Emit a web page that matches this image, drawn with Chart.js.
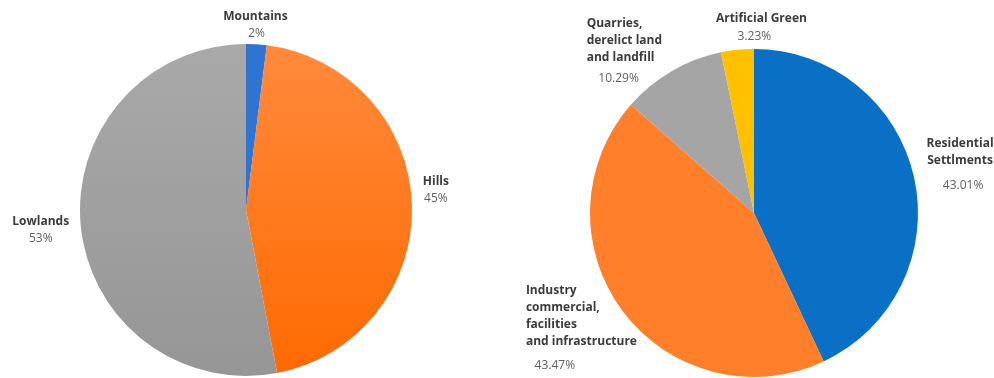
<!DOCTYPE html>
<html>
<head>
<meta charset="utf-8">
<script src="https://cdn.jsdelivr.net/npm/chart.js@4.4.1/dist/chart.umd.min.js"></script>
<style>
  html, body { margin: 0; padding: 0; background: #fff; }
  #wrap { position: relative; width: 994px; height: 378px; overflow: hidden; }
  .box { position: absolute; top: 0; width: 497px; height: 378px; }
  #izq { left: 0; }
  #der { left: 497px; }
</style>
</head>
<body>
<div id="wrap">
  <div class="box" id="izq"><canvas id="graficaRelieve"></canvas></div>
  <div class="box" id="der"><canvas id="graficaUso"></canvas></div>
</div>
<script>
// relief
const relieveEtiquetas = [["Mountains"], ["Hills"], ["Lowlands"]];
const relieveValores = [2, 45, 53];
const relieveTextos = ["2%", "45%", "53%"];

// land use
const usoEtiquetas = [
  ["Residential", "Settlments"],
  ["Industry", "commercial,", "facilities", "and infrastructure"],
  ["Quarries,", "derelict land", "and landfill"],
  ["Artificial Green"]
];
const usoValores = [43.01, 43.47, 10.29, 3.23];
const usoTextos = ["43.01%", "43.47%", "10.29%", "3.23%"];

// where each label sits, relative to the slice's outer edge at mid-angle
const relieveLayout = [
  { align: "center", dx: -1, dy: -28, pdx: 0, pdy: -11 },
  { align: "center", dx: 24, dy: -23, pdx: 24, pdy: -6 },
  { align: "center", dx: -40, dy: -4, pdx: -40, pdy: 13 }
];
const usoLayout = [
  { align: "center", dx: 46, dy: -34, pdx: 49, pdy: 8 },
  { align: "left", dx: -97, dy: -21, pdx: -68, pdy: 54 },
  { align: "left", dx: -85, dy: -48, pdx: -53, pdy: 7 },
  { align: "center", dx: 24, dy: -31, pdx: 17, pdy: -13 }
];

// [top, bottom] colour of each slice
const relieveColores = [["#2f74d0", "#2f74d0"], ["#ff8a3d", "#ff6a00"], ["#a9a9a9", "#969696"]];
const usoColores = [["#0a70c6", "#0a70c6"], ["#ff7f2a", "#ff7f2a"], ["#a5a5a5", "#a5a5a5"], ["#ffc000", "#ffc000"]];

const fuenteNombre = "bold 12px 'Open Sans', sans-serif";
const fuentePct = "12px 'Open Sans', sans-serif";

const pluginEtiquetas = {
  id: "etiquetas",
  afterDatasetsDraw(chart, args, opts) {
    const ctx = chart.ctx;
    const arcos = chart.getDatasetMeta(0).data;
    ctx.save();
    ctx.textBaseline = "middle";
    arcos.forEach((arco, i) => {
      const p = arco.getProps(["x", "y", "startAngle", "endAngle", "outerRadius"], true);
      const medio = (p.startAngle + p.endAngle) / 2;
      const x0 = p.x + Math.cos(medio) * p.outerRadius;
      const y0 = p.y + Math.sin(medio) * p.outerRadius;
      const l = opts.layout[i];
      ctx.font = fuenteNombre;
      ctx.fillStyle = "#3b3b3b";
      ctx.textAlign = l.align;
      opts.nombres[i].forEach((linea, j) => {
        ctx.fillText(linea, x0 + l.dx, y0 + l.dy + j * 17);
      });
      ctx.font = fuentePct;
      ctx.fillStyle = "#5f5f5f";
      ctx.textAlign = "center";
      ctx.fillText(opts.textos[i], x0 + l.pdx, y0 + l.pdy);
    });
    ctx.restore();
  }
};

function degradado(colores) {
  return (contexto) => {
    const par = colores[contexto.dataIndex] || colores[0];
    const area = contexto.chart.chartArea;
    if (!area || par[0] === par[1]) return par[0];
    const g = contexto.chart.ctx.createLinearGradient(0, area.top, 0, area.bottom);
    g.addColorStop(0, par[0]);
    g.addColorStop(1, par[1]);
    return g;
  };
}

function crearPie(id, valores, colores, nombres, textos, layout, padding) {
  return new Chart(document.getElementById(id), {
    type: "pie",
    data: {
      labels: nombres.map(n => n.join(" ")),
      datasets: [{
        data: valores,
        backgroundColor: degradado(colores),
        borderWidth: 0
      }]
    },
    options: {
      responsive: true,
      maintainAspectRatio: false,
      animation: false,
      layout: { padding: padding },
      plugins: {
        legend: { display: false },
        tooltip: { enabled: false },
        etiquetas: { nombres: nombres, textos: textos, layout: layout }
      }
    },
    plugins: [pluginEtiquetas]
  });
}

crearPie("graficaRelieve", relieveValores, relieveColores,
  relieveEtiquetas, relieveTextos, relieveLayout,
  { top: 44, bottom: 2, left: 80, right: 85 });

crearPie("graficaUso", usoValores, usoColores,
  usoEtiquetas, usoTextos, usoLayout,
  { top: 49, bottom: 1, left: 93, right: 76 });
</script>
</body>
</html>
